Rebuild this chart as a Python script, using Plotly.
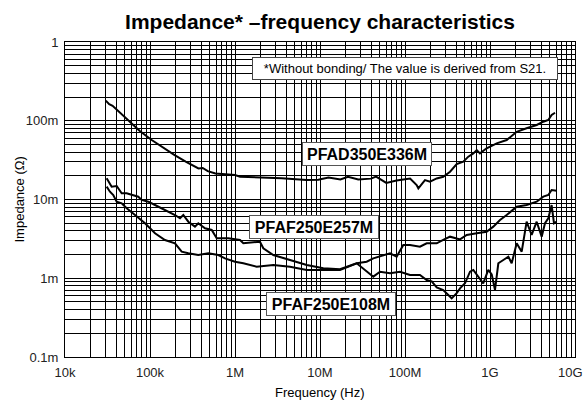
import numpy as np
import plotly.graph_objects as go

# ---- data (log10 of frequency in Hz, log10 of impedance in ohm) ----
pfad_logf = [4.48, 4.52, 4.56, 4.62, 4.70, 4.78, 4.88, 5.02, 5.15, 5.29, 5.42, 5.50, 5.57, 5.62,
             5.68, 5.77, 5.90, 6.00, 6.06, 6.30, 6.55, 6.84, 6.98, 7.10, 7.24, 7.33, 7.45, 7.60,
             7.66, 7.78, 7.90, 8.06, 8.137, 8.157, 8.235, 8.294, 8.373, 8.45, 8.53, 8.608, 8.686,
             8.745, 8.804, 8.844, 8.882, 8.96, 9.079, 9.196, 9.314, 9.43, 9.549, 9.627, 9.686,
             9.725, 9.765]
pfad_logz = [-0.745, -0.79, -0.81, -0.87, -0.95, -1.03, -1.13, -1.245, -1.34, -1.436, -1.52, -1.56,
             -1.605, -1.60, -1.64, -1.67, -1.68, -1.69, -1.711, -1.72, -1.73, -1.753, -1.75, -1.72,
             -1.745, -1.711, -1.745, -1.735, -1.71, -1.79, -1.76, -1.733, -1.816, -1.858, -1.753,
             -1.774, -1.733, -1.711, -1.647, -1.55, -1.52, -1.456, -1.414, -1.372, -1.414, -1.35,
             -1.287, -1.245, -1.14, -1.096, -1.054, -1.012, -0.99, -0.927, -0.898]

af257_logf = [4.49, 4.549, 4.608, 4.667, 4.725, 4.785, 4.862, 4.902, 4.98, 5.059, 5.138, 5.215,
              5.294, 5.353, 5.392, 5.451, 5.529, 5.568, 5.647, 5.726, 5.785, 5.921, 6.059, 6.098,
              6.294, 6.333, 6.451, 6.647, 6.844, 7.039, 7.235, 7.432, 7.549, 7.627, 7.824, 7.902,
              7.98, 8.059, 8.176, 8.255, 8.373, 8.45, 8.53, 8.647, 8.726, 8.844, 8.96, 9.039,
              9.118, 9.196, 9.314, 9.431, 9.549, 9.627, 9.686, 9.725, 9.784]
af257_logz = [-1.731, -1.837, -1.829, -1.921, -1.921, -1.943, -1.964, -2.006, -2.028, -2.07,
              -2.112, -2.155, -2.197, -2.239, -2.197, -2.282, -2.345, -2.302, -2.366, -2.387,
              -2.493, -2.493, -2.514, -2.556, -2.536, -2.62, -2.705, -2.768, -2.832, -2.874,
              -2.886, -2.81, -2.79, -2.747, -2.683, -2.726, -2.578, -2.578, -2.6, -2.556, -2.556,
              -2.514, -2.472, -2.506, -2.451, -2.43, -2.409, -2.345, -2.26, -2.197, -2.091,
              -2.07, -2.028, -1.964, -1.943, -1.879, -1.888]

af108_logf = [4.49, 4.529, 4.568, 4.608, 4.667, 4.726, 4.824, 4.941, 5.059, 5.176, 5.294, 5.373,
              5.451, 5.568, 5.686, 5.804, 5.882, 6.0, 6.098, 6.255, 6.451, 6.647, 6.844, 7.039,
              7.235, 7.432, 7.549, 7.627, 7.706, 7.824, 7.941, 8.059, 8.176, 8.255, 8.314, 8.373,
              8.45, 8.549, 8.608, 8.647, 8.706, 8.765, 8.804, 8.863, 8.92, 8.98, 9.02, 9.059,
              9.098, 9.157, 9.216, 9.255, 9.314, 9.373, 9.431, 9.49, 9.549, 9.608, 9.647, 9.686,
              9.725, 9.753, 9.784]
af108_logz = [-1.837, -1.901, -1.943, -2.028, -2.048, -2.112, -2.197, -2.302, -2.429, -2.514,
              -2.556, -2.663, -2.683, -2.705, -2.683, -2.705, -2.747, -2.79, -2.81, -2.853,
              -2.832, -2.853, -2.895, -2.895, -2.895, -2.81, -2.917, -2.98, -2.917, -2.937,
              -2.917, -2.959, -2.959, -3.022, -3.04, -3.115, -3.149, -3.255, -3.19, -3.128,
              -3.064, -2.917, -2.895, -2.98, -3.064, -2.895, -2.95, -3.149, -2.81, -2.768,
              -2.726, -2.81, -2.556, -2.663, -2.282, -2.451, -2.282, -2.472, -2.302, -2.239,
              -2.07, -2.302, -2.282]

series_names = ["PFAD350E336M", "PFAF250E257M", "PFAF250E108M"]

x_decades = [1e4, 1e5, 1e6, 1e7, 1e8, 1e9, 1e10]
x_ticklabels = ["10k", "100k", "1M", "10M", "100M", "1G", "10G"]
y_decades = [1e-4, 1e-3, 1e-2, 1e-1, 1]
y_ticklabels = ["0.1m", "1m", "10m", "100m", "1"]

note_text = "*Without bonding/ The value is derived from S21."
title_text = "Impedance* \u2013frequency characteristics"

FONT = "Liberation Sans, Arial, sans-serif"


def grid_ticks(decades, labels):
    vals, texts = [], []
    for i, d in enumerate(decades):
        vals.append(d)
        texts.append(labels[i])
        if i < len(decades) - 1:
            for m in range(2, 10):
                vals.append(d * m)
                texts.append("")
    return vals, texts


xv, xt = grid_ticks(x_decades, x_ticklabels)
yv, yt = grid_ticks(y_decades, y_ticklabels)
# last x label (at the right edge) is drawn right-aligned so it stays inside the page
xt[-1] = ""

fig = go.Figure()
for lf, lz, nm in [(pfad_logf, pfad_logz, series_names[0]),
                   (af257_logf, af257_logz, series_names[1]),
                   (af108_logf, af108_logz, series_names[2])]:
    fig.add_trace(go.Scatter(x=10 ** np.array(lf), y=10 ** np.array(lz), mode="lines",
                             name=nm, line=dict(color="black", width=2), showlegend=False))

label_pos = [(7.553, -1.422), (6.935, -2.349), (7.135, -3.327)]
for (lx, ly), nm in zip(label_pos, series_names):
    fig.add_annotation(x=lx, y=ly, xref="x", yref="y", text="<b>" + nm + "</b>",
                       showarrow=False, font=dict(family=FONT, size=16, color="black"),
                       bgcolor="white", bordercolor="#555", borderwidth=1, borderpad=2,
                       width=124, height=18)

fig.add_annotation(x=8.0, y=-0.3365, xref="x", yref="y", text=note_text, showarrow=False,
                   font=dict(family=FONT, size=13, color="black"), bgcolor="white",
                   bordercolor="#444", borderwidth=1, borderpad=2, width=300, height=17)

fig.add_annotation(x=1 + 9.5 / 510, y=-(372 - 357) / 315, xref="paper", yref="paper",
                   text=x_ticklabels[-1], showarrow=False, xanchor="right", yanchor="middle",
                   font=dict(family=FONT, size=13, color="#222"))

fig.add_annotation(x=0.5, y=-(392 - 357) / 315, xref="paper", yref="paper",
                   text="Frequency (Hz)", showarrow=False, yanchor="middle",
                   font=dict(family=FONT, size=13, color="black"))
fig.add_annotation(x=(19 - 65) / 510, y=0.5, xref="paper", yref="paper",
                   text="Impedance (\u03a9)", showarrow=False, textangle=-90,
                   xanchor="center", yanchor="middle",
                   font=dict(family=FONT, size=13, color="black"))

axis_common = dict(type="log", showgrid=True, gridcolor="black", gridwidth=1,
                   showline=True, linecolor="black", linewidth=1, mirror=True,
                   ticks="", zeroline=False, ticklabeloverflow="allow",
                   tickfont=dict(family=FONT, size=13, color="#222"))

fig.update_layout(
    width=585, height=401,
    margin=dict(l=65, r=10, t=42, b=44, autoexpand=False),
    paper_bgcolor="white", plot_bgcolor="white",
    title=dict(text="<b>" + title_text + "</b>", x=0.5, xref="paper", y=1 - 22 / 401,
               yref="container", xanchor="center", yanchor="middle",
               font=dict(family=FONT, size=21, color="black")),
    xaxis=dict(range=[4, 10], tickmode="array", tickvals=xv, ticktext=xt,
               ticklabelstandoff=3, **axis_common),
    yaxis=dict(range=[-4, 0], tickmode="array", tickvals=yv, ticktext=yt,
               ticklabelstandoff=3, **axis_common),
)

fig.write_html("out.html", config={"displayModeBar": False},
               post_script="document.body.style.margin='0';")
